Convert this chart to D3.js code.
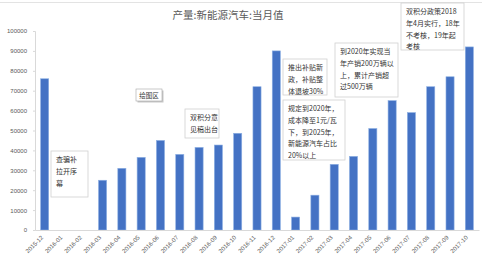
<!DOCTYPE html>
<html>
<head>
<meta charset="utf-8">
<script src="https://cdn.jsdelivr.net/npm/d3@7"></script>
<style>
  body { margin: 0; background: #fff; }
  svg { display: block; font-family: "Noto Sans CJK SC", "Liberation Sans", sans-serif; }
</style>
</head>
<body>
<svg class="chart" width="482" height="264"></svg>
<script>
var months = ["2015-12", "2016-01", "2016-02", "2016-03", "2016-04", "2016-05", "2016-06",
  "2016-07", "2016-08", "2016-09", "2016-10", "2016-11", "2016-12", "2017-01", "2017-02",
  "2017-03", "2017-04", "2017-05", "2017-06", "2017-07", "2017-08", "2017-09", "2017-10"];
var output = [76000, 0, 0, 25000, 31000, 36500, 45000, 38000, 41500, 42700, 48600, 72000,
  90000, 6500, 17500, 33000, 37000, 51000, 65000, 59000, 72000, 77000, 92000];
var yTicks = [0, 10000, 20000, 30000, 40000, 50000, 60000, 70000, 80000, 90000, 100000];
var title = "产量:新能源汽车:当月值";

// annotation texts (one entry per line)
var noteLines = [
  ["查骗补", "拉开序", "幕"],
  ["双积分意", "见稿出台"],
  ["推出补贴新", "政，补贴整", "体退坡30%"],
  ["规定到2020年，", "成本降至1元/瓦", "下，到2025年，", "新能源汽车占比", "20%以上"],
  ["到2020年实现当", "年产销200万辆以", "上，累计产销超", "过500万辆"],
  ["双积分政策2018", "年4月实行，18年", "不考核，19年起", "考核"]
];
// box placement of each annotation: [x, y, w, h]
var noteBoxes = [
  [51, 151, 37, 46],
  [185, 109, 34, 29],
  [283, 59, 44, 36],
  [283, 100, 62, 60],
  [335, 43, 63, 54],
  [401, 3, 63, 47]
];

var svg = d3.select(".chart");
var W = 482, H = 264;

var x = d3.scaleBand().domain(months).range([35, 479]).paddingInner(0.58).paddingOuter(0.29);
var y = d3.scaleLinear().domain([0, 100000]).range([230, 31]);

// top frame line
svg.append("line").attr("x1", 0).attr("x2", W).attr("y1", 2.5).attr("y2", 2.5)
  .attr("stroke", "#e3e3e3").attr("stroke-width", 1);

svg.append("text").attr("x", 228).attr("y", 19).attr("text-anchor", "middle")
  .attr("font-size", 10.5).attr("fill", "#595959").text(title);

// y axis
var yAxis = svg.append("g").attr("transform", "translate(35,0)")
  .call(d3.axisLeft(y).tickValues(yTicks).tickSize(2).tickPadding(6).tickFormat(d3.format("d")));
yAxis.select(".domain").attr("stroke", "#d9d9d9");
yAxis.selectAll(".tick line").attr("stroke", "#d9d9d9");
yAxis.selectAll("text").attr("font-family", "Liberation Sans, Arial, sans-serif")
  .attr("font-size", 6).attr("fill", "#595959");

// bars
svg.append("g").selectAll("rect").data(output).enter().append("rect")
  .attr("x", function(d, i) { return x(months[i]); })
  .attr("y", function(d) { return y(d); })
  .attr("width", x.bandwidth())
  .attr("height", function(d) { return y(0) - y(d); })
  .attr("fill", "#4472c4")
  .attr("stroke", "#8eb0e3").attr("stroke-width", 0.6);

// x axis
var xAxis = svg.append("g").attr("transform", "translate(0,230)")
  .call(d3.axisBottom(x).tickSize(0).tickPadding(0));
xAxis.select(".domain").attr("stroke", "#d9d9d9");
xAxis.selectAll("text")
  .attr("font-family", "Liberation Sans, Arial, sans-serif")
  .attr("font-size", 6).attr("fill", "#595959")
  .attr("text-anchor", "end")
  .attr("dy", 0)
  .attr("transform", "translate(-1,8) rotate(-45)");

// "绘图区" tooltip-like label
var tip = svg.append("g").attr("transform", "translate(136,89)");
tip.append("rect").attr("x", 1.5).attr("y", 1.5).attr("width", 26).attr("height", 12).attr("fill", "#c8c8c8");
tip.append("rect").attr("width", 26).attr("height", 12).attr("fill", "#fff")
  .attr("stroke", "#a6a6a6").attr("stroke-width", 0.6);
tip.append("text").attr("x", 13).attr("y", 8.6).attr("text-anchor", "middle")
  .attr("font-size", 6.5).attr("fill", "#333").text("绘图区");

// annotation boxes
noteLines.forEach(function(lines, i) {
  var b = noteBoxes[i];
  var g = svg.append("g").attr("transform", "translate(" + b[0] + "," + b[1] + ")");
  g.append("rect").attr("width", b[2]).attr("height", b[3]).attr("fill", "#fff")
    .attr("stroke", "#d0d0d0").attr("stroke-width", 0.8);
  g.selectAll("text").data(lines).enter().append("text")
    .attr("x", 5).attr("y", function(d, j) { return 11 + j * 11.8; })
    .attr("font-size", 7).attr("fill", "#333").text(function(d) { return d; });
});
</script>
</body>
</html>
